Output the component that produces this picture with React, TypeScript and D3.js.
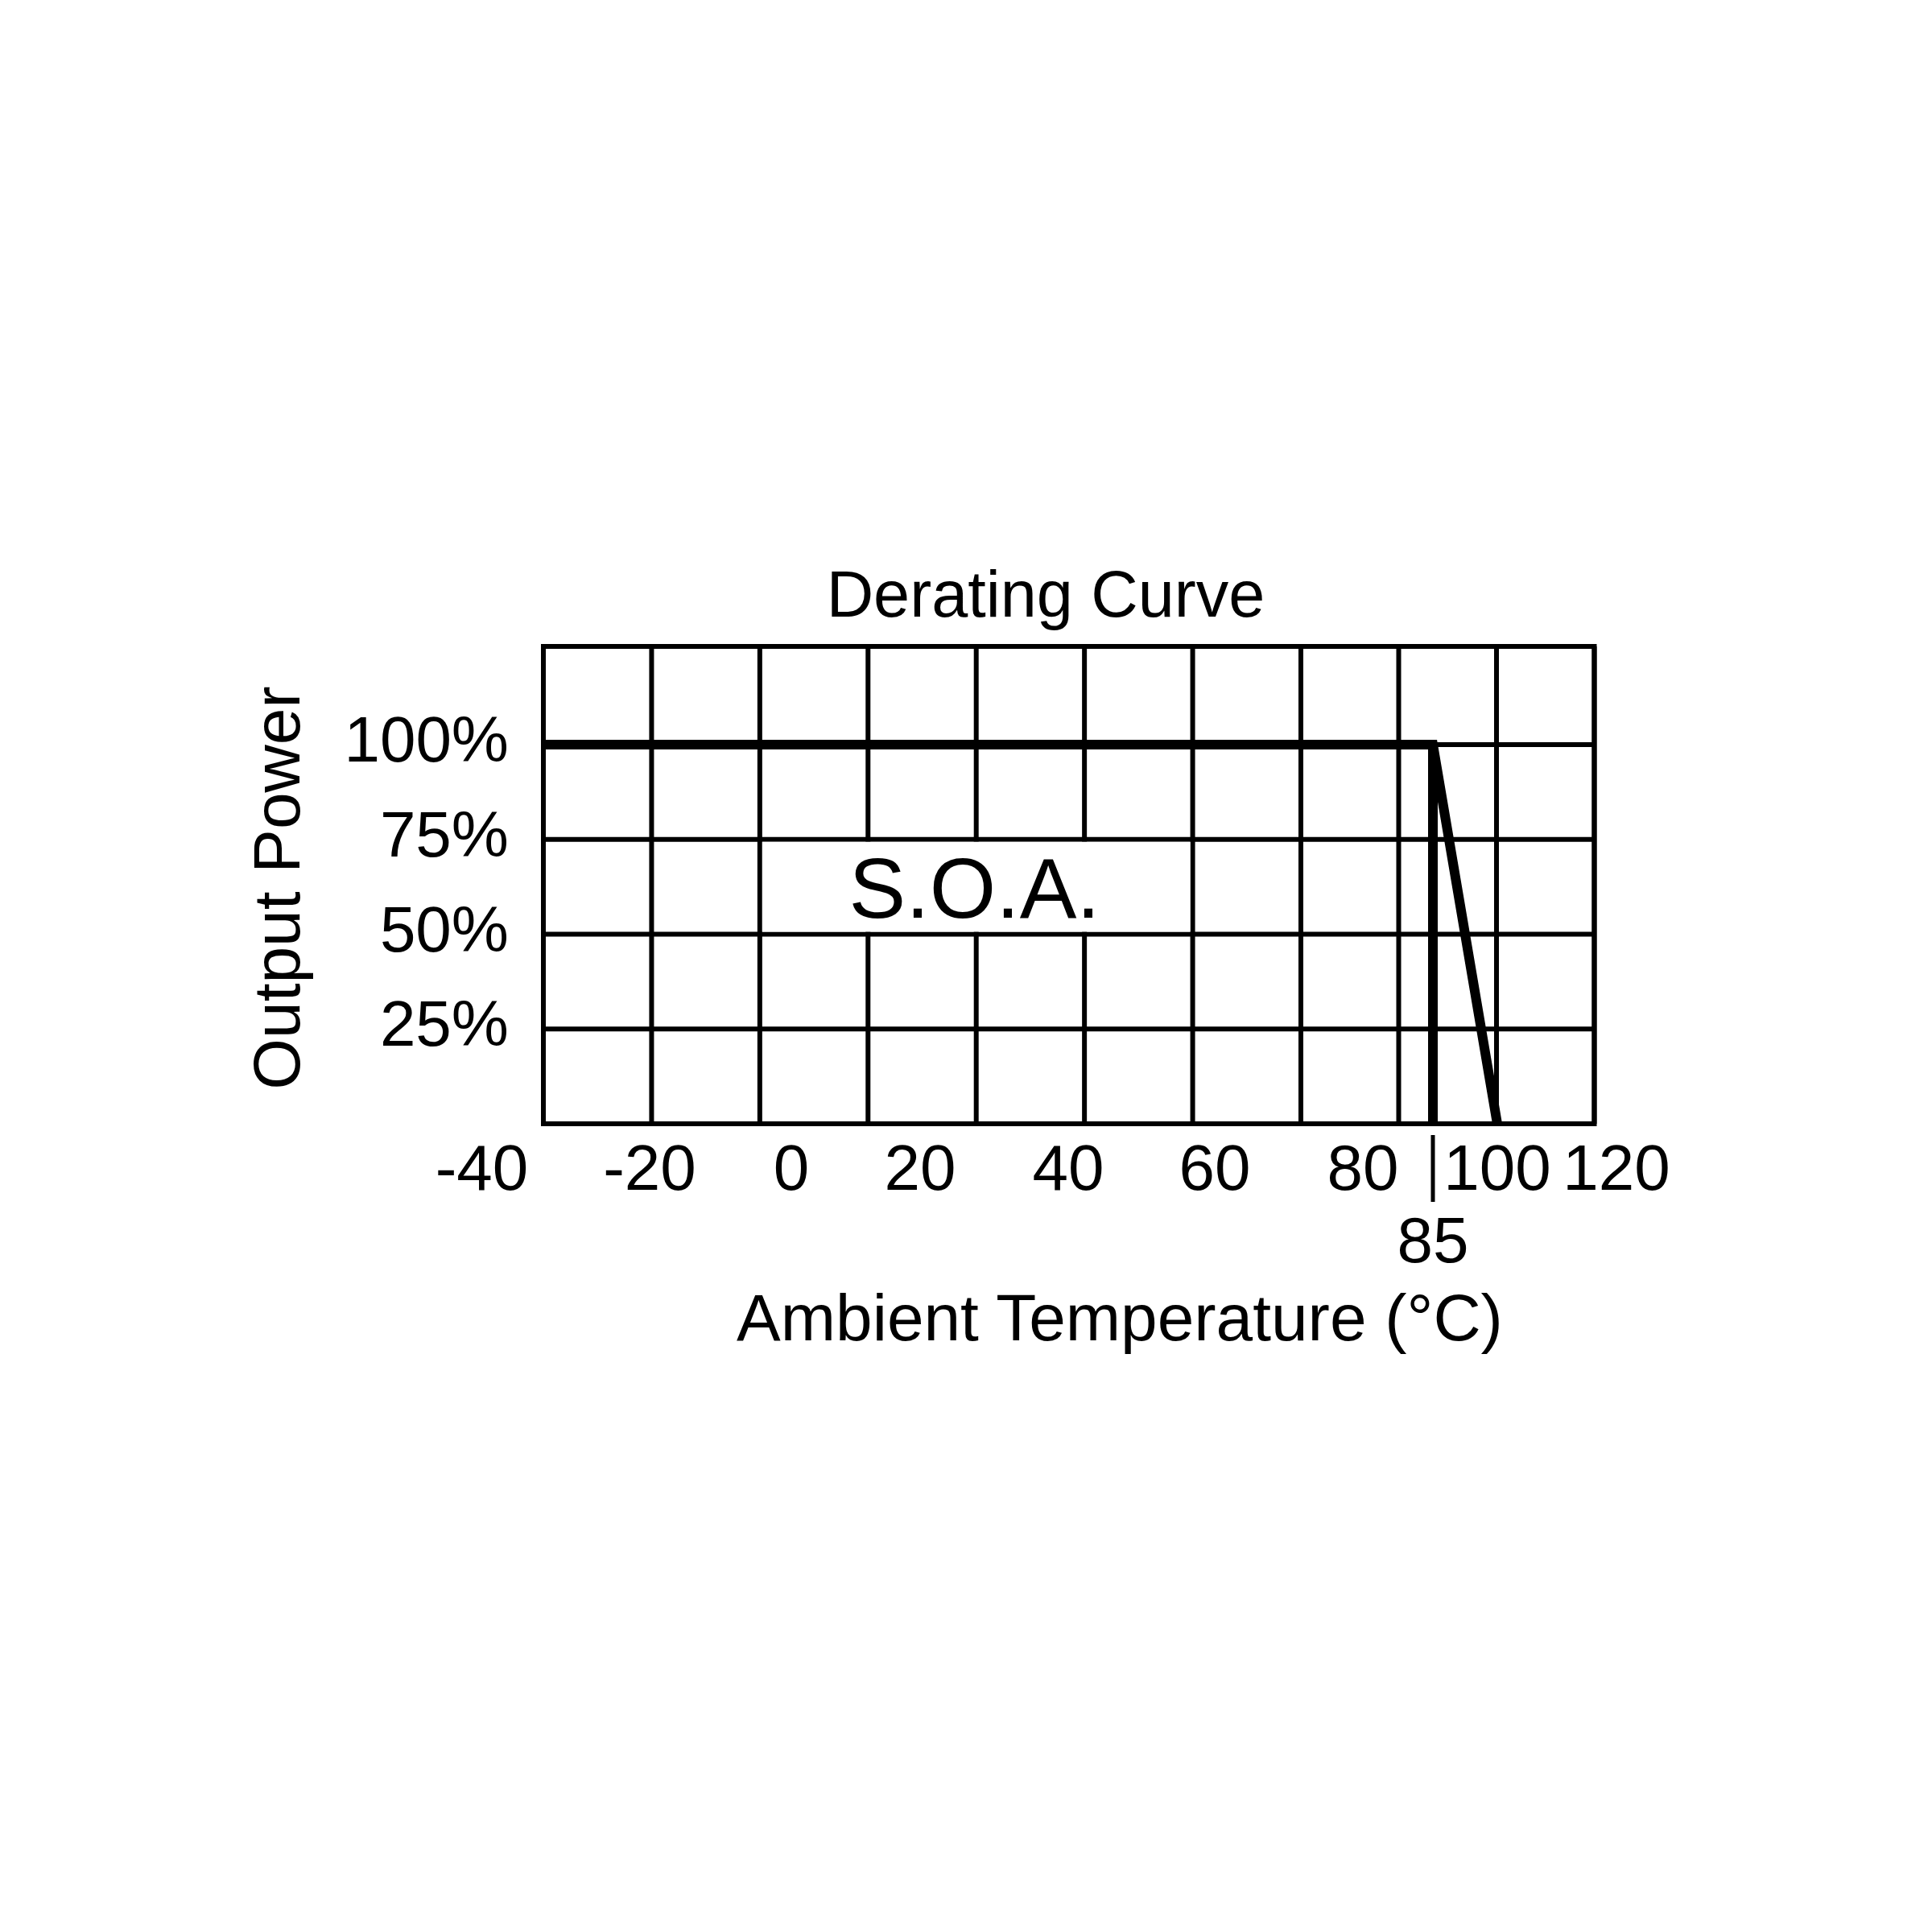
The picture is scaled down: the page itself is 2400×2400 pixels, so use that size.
import React from "react";
import * as d3 from "d3";

// ---- data ----
const TEMP_TICKS = [-40, -20, 0, 20, 40, 60, 80, 100, 120];
const POWER_TICKS = [25, 50, 75, 100];
const POWER_GRID = [0, 25, 50, 75, 100, 125];
const GRID_COLUMNS = 10;
const CURVE_TEMP = [-40, 85, 100];
const CURVE_POWER = [100, 100, 0];
const LIMIT_TEMP = [85, 85];
const LIMIT_POWER = [100, 0];
const MARK_TEMP = 85;
const TITLE = "Derating Curve";
const X_LABEL = "Ambient Temperature (°C)";
const Y_LABEL = "Output Power";
const REGION_LABEL = "S.O.A.";

// ---- layout ----
const W = 2400;
const H = 2400;
const PLOT = { left: 675, right: 1980.5, top: 803, bottom: 1396 };
// temperature axis as drawn in the sheet (piecewise, hand-drawn spacing)
const X_KNOTS = [-40, -20, 0, 20, 40, 60, 80, 85, 100, 120];
const X_KNOT_PX = [598.5, 807, 983, 1143, 1327, 1509, 1693, 1780, 1860, 2008];
const FONT = "'Liberation Sans', Arial, Helvetica, sans-serif";

export default function App() {
  const x = d3.scaleLinear().domain(X_KNOTS).range(X_KNOT_PX);
  const y = d3.scaleLinear().domain([0, 100, 125]).range([PLOT.bottom, 925, PLOT.top]);
  const gx = d3
    .scaleLinear()
    .domain([0, 7, GRID_COLUMNS])
    .range([PLOT.left, 1616, PLOT.right]);

  const line = d3
    .line<[number, number]>()
    .x((d) => x(d[0]))
    .y((d) => y(d[1]));

  const curvePts: [number, number][] = CURVE_TEMP.map((t, i) => [t, CURVE_POWER[i]]);
  const limitPts: [number, number][] = LIMIT_TEMP.map((t, i) => [t, LIMIT_POWER[i]]);

  const cols = d3.range(GRID_COLUMNS + 1);
  const boxX0 = gx(2);
  const boxX1 = gx(6);
  const boxY0 = y(75);
  const boxY1 = y(50);

  return (
    <svg
      width={W}
      height={H}
      viewBox={`0 0 ${W} ${H}`}
      style={{ position: "absolute", left: 0, top: 0, background: "#fff" }}
      fontFamily={FONT}
    >
      <rect x={0} y={0} width={W} height={H} fill="#fff" />
      <defs>
        <clipPath id="plotClip">
          <rect
            x={PLOT.left}
            y={PLOT.top}
            width={PLOT.right - PLOT.left}
            height={PLOT.bottom - PLOT.top}
          />
        </clipPath>
      </defs>

      {/* grid */}
      <g stroke="#000" strokeWidth={6}>
        {cols.map((c) => (
          <line key={"v" + c} x1={gx(c)} x2={gx(c)} y1={PLOT.top} y2={PLOT.bottom} />
        ))}
        {POWER_GRID.map((p) => (
          <line key={"h" + p} x1={PLOT.left} x2={PLOT.right} y1={y(p)} y2={y(p)} />
        ))}
      </g>

      {/* S.O.A. region label */}
      <rect
        x={boxX0 + 3}
        y={boxY0 + 3}
        width={boxX1 - boxX0 - 6}
        height={boxY1 - boxY0 - 6}
        fill="#fff"
      />
      <text
        x={(boxX0 + boxX1) / 2 - 2}
        y={(boxY0 + boxY1) / 2 + 38}
        textAnchor="middle"
        fontSize={106}
        fill="#000"
      >
        {REGION_LABEL}
      </text>

      {/* derating curve */}
      <g clipPath="url(#plotClip)" fill="none" stroke="#000" strokeWidth={12}>
        <path d={line(curvePts) || ""} strokeLinejoin="miter" />
        <path d={line(limitPts) || ""} />
      </g>

      {/* border */}
      <rect
        x={PLOT.left}
        y={PLOT.top}
        width={PLOT.right - PLOT.left}
        height={PLOT.bottom - PLOT.top}
        fill="none"
        stroke="#000"
        strokeWidth={6}
      />

      {/* y tick labels */}
      {POWER_TICKS.map((p) => (
        <text key={"yl" + p} x={632} y={y(p) + 21} textAnchor="end" fontSize={80} fill="#000">
          {p + "%"}
        </text>
      ))}

      {/* x tick labels */}
      {TEMP_TICKS.map((t) => (
        <text key={"xl" + t} x={x(t)} y={1478} textAnchor="middle" fontSize={80} fill="#000">
          {String(t)}
        </text>
      ))}

      {/* 85 marker */}
      <line
        x1={x(MARK_TEMP)}
        x2={x(MARK_TEMP)}
        y1={1410}
        y2={1493}
        stroke="#000"
        strokeWidth={5}
      />
      <text x={x(MARK_TEMP)} y={1568} textAnchor="middle" fontSize={80} fill="#000">
        {String(MARK_TEMP)}
      </text>

      {/* titles */}
      <text x={1299} y={766} textAnchor="middle" fontSize={81} fill="#000">
        {TITLE}
      </text>
      <text x={1391} y={1665} textAnchor="middle" fontSize={82} fill="#000">
        {X_LABEL}
      </text>
      <text
        transform={`translate(372, 1103) rotate(-90)`}
        textAnchor="middle"
        fontSize={82}
        fill="#000"
      >
        {Y_LABEL}
      </text>
    </svg>
  );
}
